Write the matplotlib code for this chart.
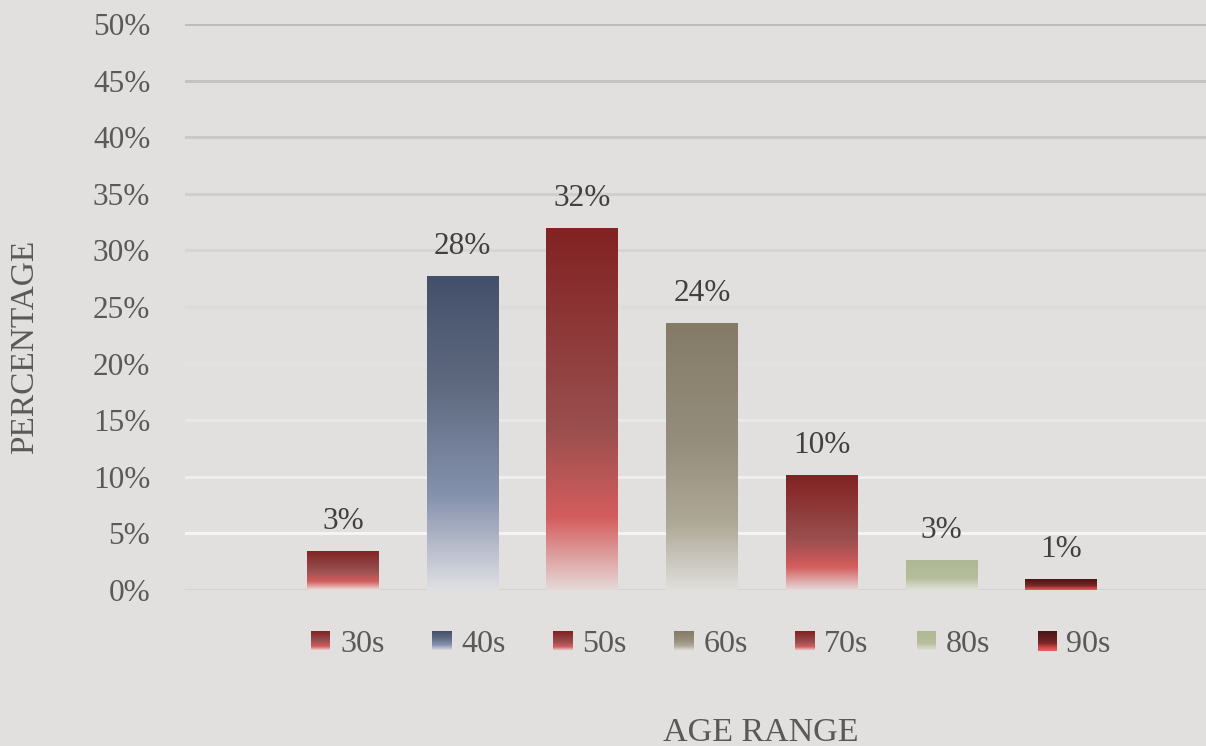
import numpy as np
import matplotlib
matplotlib.use('Agg')
from matplotlib import pyplot as plt
from matplotlib.colors import LinearSegmentedColormap, to_rgb
from matplotlib.legend_handler import HandlerBase
from matplotlib.patches import Rectangle

# data
categories = ["30s", "40s", "50s", "60s", "70s", "80s", "90s"]
values = [3.4, 27.7, 31.9, 23.5, 10.1, 2.6, 0.9]
labels = ["3%", "28%", "32%", "24%", "10%", "3%", "1%"]
yticks = [0, 5, 10, 15, 20, 25, 30, 35, 40, 45, 50]

bg = "#e1e0de"
text_col = "#595959"

# gradient stops per bar (position from top, colour)
red_grad = [(0.0, "#822222"), (0.55, "#9a4e4e"), (0.80, "#d45d5d"), (1.0, "#e6d8d8")]
gradients = {
    "30s": [(0.0, "#822424"), (0.5, "#985050"), (0.78, "#d45c5c"), (1.0, "#ecdede")],
    "40s": [(0.0, "#44506b"), (0.35, "#5f6a80"), (0.70, "#8592ad"), (1.0, "#e0e0e3")],
    "50s": red_grad,
    "60s": [(0.0, "#847b67"), (0.45, "#968e7d"), (0.75, "#aea896"), (1.0, "#e0dfdc")],
    "70s": red_grad,
    "80s": [(0.0, "#afb893"), (0.6, "#b5bd9c"), (1.0, "#e0e1d8")],
    "90s": [(0.0, "#4a1414"), (0.6, "#7a2626"), (0.85, "#d04848"), (1.0, "#e06060")],
}

plt.rcParams['font.family'] = ['Liberation Serif', 'DejaVu Serif']

fig = plt.figure(figsize=(12.06, 7.46), dpi=100, facecolor=bg)
ax = fig.add_axes([185/1206, 1 - 590/746, 1021/1206, 566/746])
ax.set_facecolor(bg)

x = np.arange(len(categories))
width = 0.6
ax.set_xlim(-1.32, 7.21)
ax.set_ylim(0, 50)


def make_cmap(name):
    return LinearSegmentedColormap.from_list(name, [(p, c) for p, c in gradients[name]])


# gridlines, gray at the top fading to white lower down
for t in yticks:
    if t == 0:
        col = "#d3d3d3"
    else:
        f = (t - 5) / 45
        c1 = np.array(to_rgb("#f4f4f4"))
        c2 = np.array(to_rgb("#bdbdbd"))
        col = c1 + (c2 - c1) * f
    ax.axhline(t, color=col, linewidth=2.2, zorder=1)

bars = ax.bar(x, values, width=width, color="none", edgecolor="none", zorder=2)
grad = np.linspace(0, 1, 256).reshape(-1, 1)
for bar, cat in zip(bars, categories):
    x0, y0 = bar.get_x(), bar.get_y()
    w, h = bar.get_width(), bar.get_height()
    ax.imshow(grad, cmap=make_cmap(cat), aspect='auto', origin='upper',
              extent=[x0, x0 + w, y0, y0 + h], zorder=2, interpolation='bicubic')

for xi, v, lab in zip(x, values, labels):
    ax.text(xi, v + 1.4, lab, ha='center', va='bottom', fontsize=22.5, color="#404040")

ax.set_xticks([])
ax.set_yticks(yticks)
ax.set_yticklabels([f"{t}%" for t in yticks], fontsize=22.5, color=text_col)
ax.tick_params(axis='y', length=0, pad=25)
for s in ax.spines.values():
    s.set_visible(False)

ax.set_ylabel("PERCENTAGE", fontsize=24, color=text_col, labelpad=0)
ax.yaxis.set_label_coords(-145/1021, 0.43)
fig.text(761/1206, 1 - 741/746, "AGE RANGE", ha='center', va='baseline',
         fontsize=24.5, color=text_col)


class GradHandler(HandlerBase):
    def create_artists(self, legend, orig_handle, xdescent, ydescent, width, height, fontsize, trans):
        cmap = make_cmap(orig_handle.get_label())
        n = 20
        arts = []
        for k in range(n):
            arts.append(Rectangle((-xdescent, -ydescent + height * (1 - (k + 1) / n)),
                                  width, height / n + 0.3, facecolor=cmap(k / (n - 1)),
                                  edgecolor="none", transform=trans))
        return arts


handles = [Rectangle((0, 0), 1, 1, label=c) for c in categories]
leg = ax.legend(handles=handles, labels=categories, ncol=7, frameon=False,
                loc='center', bbox_to_anchor=(711/1206, 1 - 645/746), bbox_transform=fig.transFigure,
                fontsize=23, handlelength=0.6, handleheight=0.6, handletextpad=0.3,
                columnspacing=1.5, handler_map={Rectangle: GradHandler()})
for t in leg.get_texts():
    t.set_color(text_col)

fig.savefig("out.png", dpi=100, facecolor=bg)
